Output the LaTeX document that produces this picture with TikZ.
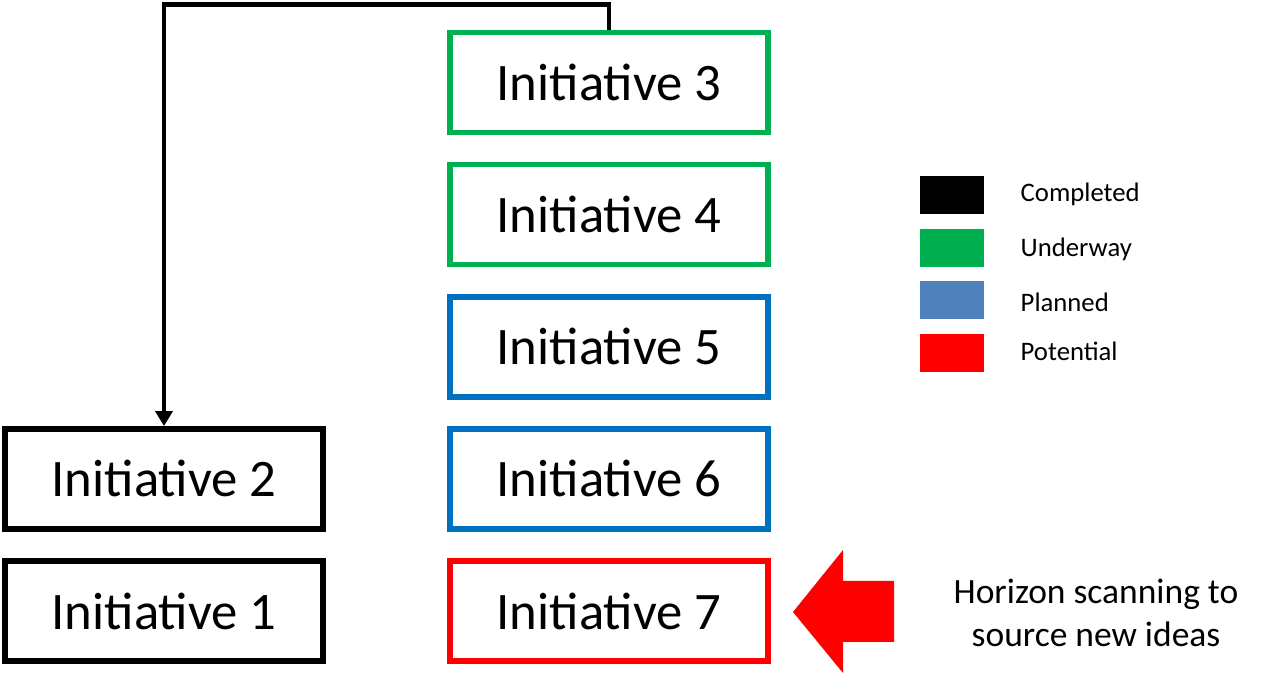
\documentclass[tikz,border=0pt]{standalone}
\usepackage{fontspec}
\setmainfont{Carlito}
\usetikzlibrary{arrows.meta, positioning}
\definecolor{cgreen}{HTML}{00B050}
\definecolor{cblue}{HTML}{0070C0}
\definecolor{cplanned}{HTML}{4F81BD}
\definecolor{cred}{HTML}{FF0000}
\tikzset{
  initbox/.style={draw=#1, line width=3.2pt, minimum width=6.36cm, minimum height=2.0cm, font=\fontsize{30}{36}\selectfont},
  initbox/.default=black,
  swatch/.style={fill=#1, minimum width=1.28cm, minimum height=0.76cm, inner sep=0pt},
  legendtext/.style={anchor=west, font=\fontsize{15.2}{18}\selectfont},
  flow/.style={-{Triangle[length=0.3cm, width=0.34cm]}, line width=2.8pt},
  note/.style={align=center, font=\fontsize{20.2}{24.4}\selectfont},
}
\begin{document}
\begin{tikzpicture}[node distance=0.53cm]
  \useasboundingbox (0,0) rectangle (25.6,13.54);
  % left column
  \node[initbox] (i1) at (3.28,1.32) {Initiative 1};
  \node[initbox, above=of i1] (i2) {Initiative 2};
  % right column
  \node[initbox=cred] (i7) at (12.18,1.32) {Initiative 7};
  \node[initbox=cblue, above=of i7] (i6) {Initiative 6};
  \node[initbox=cblue, above=of i6] (i5) {Initiative 5};
  \node[initbox=cgreen, above=of i5] (i4) {Initiative 4};
  \node[initbox=cgreen, above=of i4] (i3) {Initiative 3};
  \draw[flow] (i3.north) -- ++(0,0.5) -| (i2.north);
  % legend
  \node[swatch=black] (lg1) at (19.04,9.64) {};
  \node[swatch=cgreen] (lg2) at (19.04,8.58) {};
  \node[swatch=cplanned] (lg3) at (19.04,7.53) {};
  \node[swatch=cred] (lg4) at (19.04,6.47) {};
  \node[legendtext] (t1) at (20.29,9.66) {Completed};
  \node[legendtext] (t2) at (20.29,8.56) {Underway};
  \node[legendtext] (t3) at (20.29,7.50) {Planned};
  \node[legendtext] (t4) at (20.29,6.52) {Potential};
  % horizon scanning
  \fill[cred] (15.86,1.30) -- (16.86,2.54) -- (16.86,1.92) -- (17.88,1.92) -- (17.88,0.70) -- (16.86,0.70) -- (16.86,0.08) -- cycle;
  \node[note] (hs) at (21.92,1.28) {Horizon scanning to\\source new ideas};
\end{tikzpicture}
\end{document}
